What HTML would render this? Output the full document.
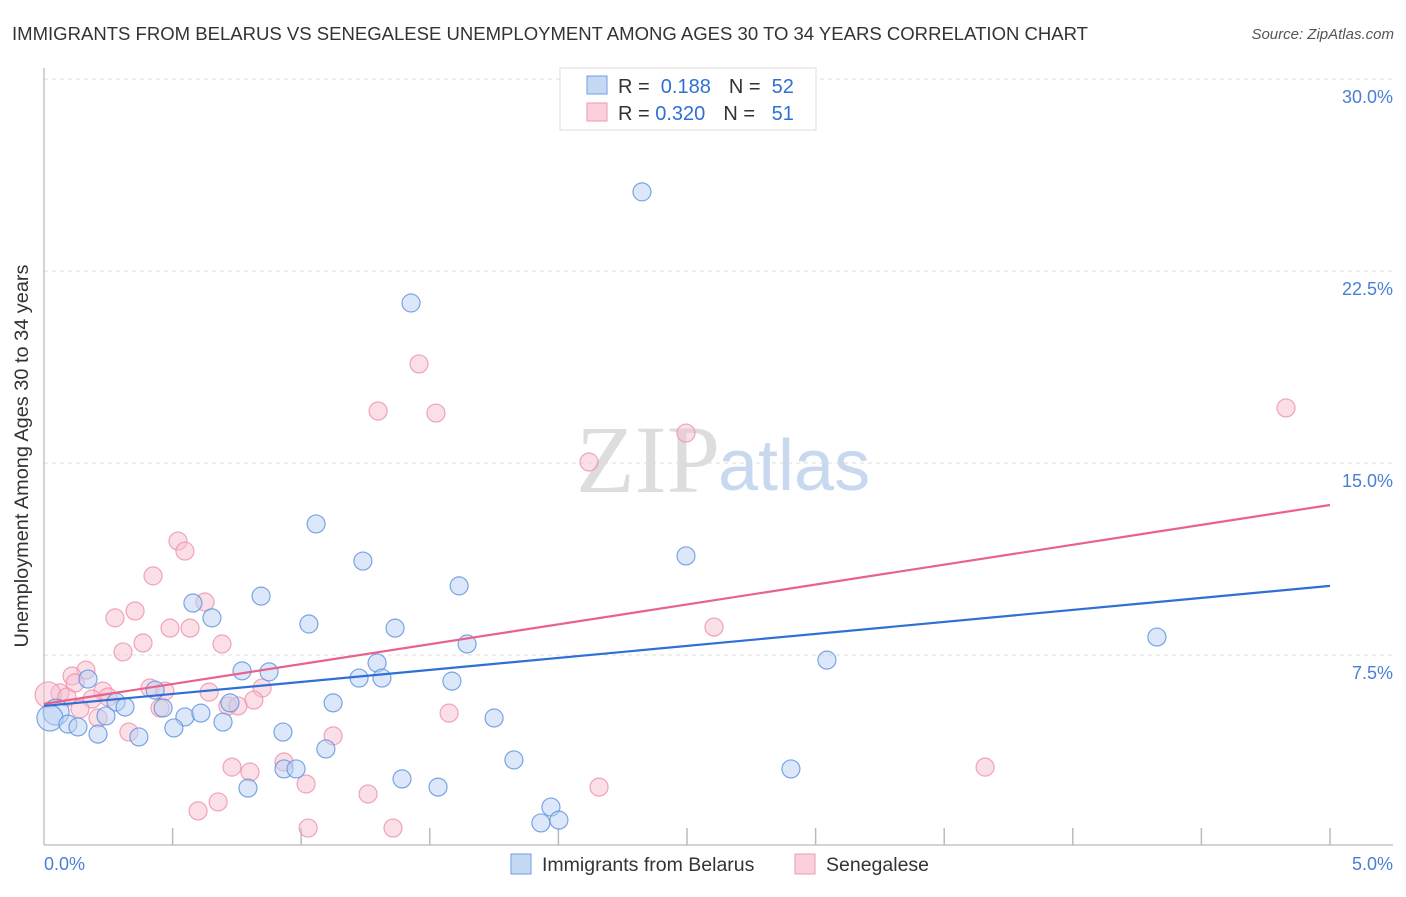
<!DOCTYPE html>
<html><head><meta charset="utf-8"><style>
body{margin:0;background:#fff;font-family:"Liberation Sans",sans-serif;}
</style></head><body>
<svg width="1406" height="892" xmlns="http://www.w3.org/2000/svg">
<text x="12" y="40" font-size="18" fill="#333" textLength="1076" lengthAdjust="spacingAndGlyphs">IMMIGRANTS FROM BELARUS VS SENEGALESE UNEMPLOYMENT AMONG AGES 30 TO 34 YEARS CORRELATION CHART</text>
<text x="1394" y="39" font-size="15" fill="#555" font-style="italic" text-anchor="end">Source: ZipAtlas.com</text>
<g id="grid"></g>
<text x="720" y="492" font-size="96" fill="#ddd" font-family="Liberation Serif,serif" text-anchor="end">ZIP</text>
<text x="718" y="490" font-size="72" fill="#c8d8ee">atlas</text>
<g id="marks"></g>
<text x="28" y="456" font-size="19" fill="#333" text-anchor="middle" textLength="383" lengthAdjust="spacingAndGlyphs" transform="rotate(-90 28 456)">Unemployment Among Ages 30 to 34 years</text>
<text x="44" y="870" font-size="18" fill="#4a7fd4">0.0%</text>
<text x="1393" y="870" font-size="18" fill="#4a7fd4" text-anchor="end">5.0%</text>
<g>
<rect x="560" y="68" width="256" height="62" fill="#fff" stroke="#ddd"/>
<rect x="587" y="76" width="20" height="18" fill="#c5d9f5" stroke="#6f9ee0"/>
<rect x="587" y="103" width="20" height="18" fill="#fbd0dc" stroke="#ee9ab2"/>
<text x="618" y="93" font-size="20" fill="#333">R = <tspan fill="#2f6fd6">&#160;0.188</tspan><tspan dx="18">N = </tspan><tspan fill="#2f6fd6">&#160;52</tspan></text>
<text x="618" y="120" font-size="20" fill="#333">R = <tspan fill="#2f6fd6">0.320</tspan><tspan dx="18">N = </tspan><tspan fill="#2f6fd6">&#160;&#160;51</tspan></text>
</g>
<g>
<rect x="511" y="854" width="20" height="20" fill="#c5d9f5" stroke="#6f9ee0"/>
<text x="542" y="871" font-size="19.5" fill="#333">Immigrants from Belarus</text>
<rect x="795" y="854" width="20" height="20" fill="#fbd0dc" stroke="#ee9ab2"/>
<text x="826" y="871" font-size="19.5" fill="#333">Senegalese</text>
</g>
</svg>
<script>
const yTicks=[7.5,15,22.5,30];
const yTickLabels=["7.5%","15.0%","22.5%","30.0%"];
const blueX=[2.325,1.427,1.058,1.240,2.496,1.614,0.844,0.579,0.653,1.030,1.365,1.645,4.327,3.044,0.770,0.875,1.295,1.225,1.314,1.586,0.171,0.432,0.280,0.315,0.463,1.124,0.723,0.548,0.610,0.696,0.241,0.505,0.047,0.023,0.093,0.132,0.210,0.369,0.929,1.750,1.096,1.827,1.392,1.532,0.793,0.933,0.980,1.971,1.932,2.002,2.904];
const blueY=[25.59,21.25,12.62,11.17,11.37,10.20,9.80,9.53,8.95,8.71,8.55,7.93,8.20,7.30,6.88,6.84,7.19,6.60,6.60,6.48,6.56,6.13,5.66,5.47,5.43,5.63,5.63,5.08,5.23,4.88,5.12,4.65,5.27,5.04,4.80,4.69,4.41,4.30,4.49,5.04,3.83,3.40,2.66,2.34,2.30,3.05,3.05,1.56,0.94,1.05,3.05];
const pinkX=[4.829,1.458,1.299,1.524,2.496,2.119,0.521,0.548,0.424,0.354,0.276,0.626,0.568,0.490,0.385,0.692,0.307,0.163,0.109,2.605,0.062,0.016,0.089,0.229,0.249,0.412,0.470,0.642,0.848,0.816,0.187,0.451,0.715,0.754,0.140,0.210,0.330,1.124,1.575,0.933,0.731,0.801,1.019,0.677,0.599,1.260,2.158,3.659,1.027,1.357,0.121];
const pinkY=[17.15,18.87,17.03,16.95,16.17,15.04,11.95,11.56,10.59,9.22,8.95,9.57,8.55,8.55,7.97,7.93,7.62,6.91,6.68,8.59,6.02,5.94,5.86,6.09,5.86,6.21,6.09,6.05,6.21,5.74,5.78,5.43,5.51,5.51,5.39,5.04,4.49,4.34,5.23,3.32,3.12,2.93,2.46,1.76,1.41,2.07,2.34,3.12,0.74,0.74,6.41];
const blueTrend=[5.51,10.2];
const pinkTrend=[5.59,13.36];
const NS="http://www.w3.org/2000/svg";
const X0=44,X1=1330,Y0=847;
function sx(v){return X0+v/5*(X1-X0);}
function sy(v){return Y0-v/7.5*192;}
const grid=document.getElementById('grid'),marks=document.getElementById('marks');
function mk(tag,attrs,parent){const e=document.createElementNS(NS,tag);for(const k in attrs)e.setAttribute(k,attrs[k]);parent.appendChild(e);return e;}
yTicks.forEach((t,i)=>{
 const l=mk('line',{x1:44,x2:1393,y1:sy(t),y2:sy(t),stroke:'#ddd','stroke-dasharray':'4,4'},grid);
 
 
 const tx=mk('text',{x:1393,y:sy(t)+24,'font-size':18,fill:'#4a7fd4','text-anchor':'end'},grid);
 tx.textContent=yTickLabels[i];
 
 
});
let ax=mk('line',{x1:44,x2:44,y1:68,y2:845,stroke:'#aaa'},grid);


ax=mk('line',{x1:44,x2:1393,y1:845,y2:845,stroke:'#aaa'},grid);


for(let i=1;i<=10;i++){
 const x=sx(i*0.5);
 const t=mk('line',{x1:x,x2:x,y1:828,y2:845,stroke:'#bbb','stroke-width':1.5},grid);
 
 
}
function pts(xs,ys,fill,stroke,name){
 xs.forEach((x,i)=>{
  const r=(x<0.06)?13:9;
  const c=mk('circle',{cx:sx(x),cy:sy(ys[i]),r:r,fill:fill,'fill-opacity':0.5,stroke:stroke,'stroke-width':1.2,'stroke-opacity':0.8},marks);
  
  
 });
}
pts(pinkX,pinkY,'#f8bfd0','#ee8fab','senegalese-point');
pts(blueX,blueY,'#b9d2f3','#5b90de','belarus-point');
let tl=mk('line',{x1:sx(0),y1:sy(pinkTrend[0]),x2:sx(5),y2:sy(pinkTrend[1]),stroke:'#e8628d','stroke-width':2.2},marks);


tl=mk('line',{x1:sx(0),y1:sy(blueTrend[0]),x2:sx(5),y2:sy(blueTrend[1]),stroke:'#2f6fd6','stroke-width':2.2},marks);


</script>
</body></html>
